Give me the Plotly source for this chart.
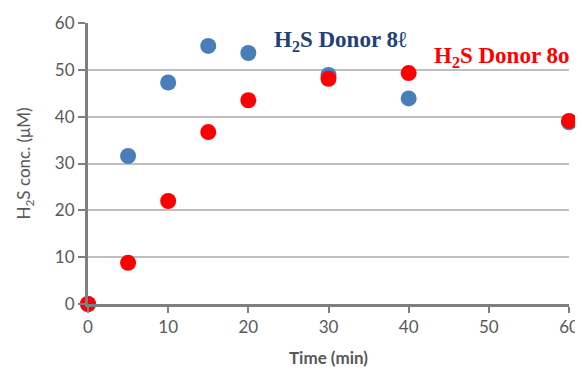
import plotly.graph_objects as go

time = [0, 5, 10, 15, 20, 30, 40, 60]
donor_8l = [0, 31.6, 47.3, 55.1, 53.6, 48.9, 43.9, 38.8]
donor_8o = [0, 8.8, 22.0, 36.7, 43.5, 48.1, 49.3, 39.1]
x_ticks = [0, 10, 20, 30, 40, 50, 60]
y_ticks = [0, 10, 20, 30, 40, 50, 60]

fig = go.Figure()
fig.add_trace(go.Scatter(x=time, y=donor_8l, mode="markers", name="H2S Donor 8l",
                         marker=dict(size=16, color="#4A7EBB"), cliponaxis=False))
fig.add_trace(go.Scatter(x=time, y=donor_8o, mode="markers", name="H2S Donor 8o",
                         marker=dict(size=16, color="#FF0000"), cliponaxis=False))

fig.add_annotation(x=31.5, y=56.2, xref="x", yref="y", xanchor="center", yanchor="middle",
                   text="H<sub>2</sub>S Donor 8ℓ", showarrow=False,
                   font=dict(family="Liberation Serif", size=23, color="#1F4177", weight="bold"))
fig.add_annotation(x=51.6, y=52.8, xref="x", yref="y", xanchor="center", yanchor="middle",
                   text="H<sub>2</sub>S Donor 8o", showarrow=False,
                   font=dict(family="Liberation Serif", size=23, color="#FF0000", weight="bold"))

fig.update_layout(
    width=575, height=360,
    margin=dict(l=80, r=14, t=15, b=64, autoexpand=False),
    plot_bgcolor="white", paper_bgcolor="white",
    showlegend=False,
    font=dict(family="Lato", color="#595959", size=17),
    xaxis=dict(range=[0, 60], tickvals=x_ticks, showgrid=False, zeroline=False, automargin=False,
               showline=True, linecolor="#7F7F7F", linewidth=3, ticklabeloverflow="allow",
               ticks="outside", ticklen=6, tickwidth=2, tickcolor="#7F7F7F",
               title=dict(text="<b>Time (min)</b>", font=dict(size=17, color="#595959"), standoff=18)),
    yaxis=dict(range=[0, 60], tickvals=y_ticks, showgrid=True, gridcolor="#BFBFBF", gridwidth=1.5,
               zeroline=False, automargin=False, showline=True, linecolor="#7F7F7F", linewidth=3,
               ticks="outside", ticklen=7, tickwidth=2, tickcolor="#7F7F7F",
               title=dict(text="H<sub>2</sub>S conc. (μM)", font=dict(size=17, color="#595959"), standoff=20)),
)

fig.write_html("out.html")
